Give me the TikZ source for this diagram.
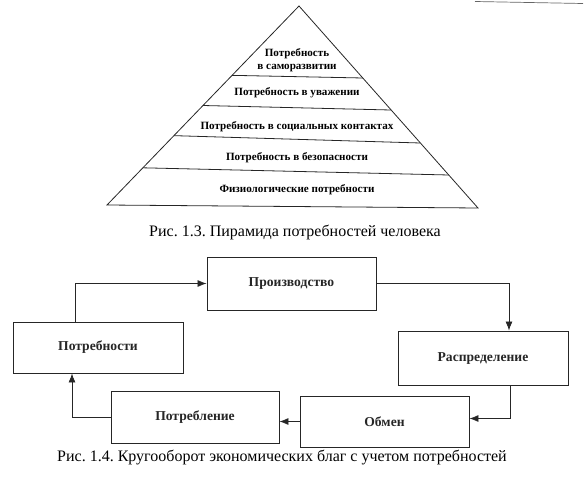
\documentclass[tikz,border=0pt]{standalone}
\usepackage{fontspec}
\setmainfont{Liberation Serif}
\usetikzlibrary{arrows.meta,calc}
\frenchspacing
\begin{document}
\begin{tikzpicture}[x=1pt,y=-1pt,
  line/.style={line width=0.8pt,black!85},
  box/.style={draw,line width=0.9pt,black!85,minimum width=169pt,minimum height=52pt,inner sep=0pt,font=\bfseries\fontsize{13.6}{15}\selectfont},
  lvl/.style={inner sep=0pt,align=center,font=\bfseries\fontsize{11.1}{13}\selectfont},
  figcap/.style={inner sep=0pt,font=\fontsize{16}{18}\selectfont},
  arr/.style={line width=0.8pt,black!85,-{Latex[length=9pt,width=7pt]}}]
\useasboundingbox (0,0) rectangle (587,482);
% scan edge mark
\draw[line width=0.7pt,black!60] (475,1.5) -- (583,3.5);
% pyramid
\coordinate (A) at (299,6);
\coordinate (BL) at (107,205);
\coordinate (BR) at (478,208);
\draw[line] (BL) -- (A) -- (BR) -- cycle;
\draw[line] ($(A)!0.3485!(BL)$) -- ($(A)!0.3564!(BR)$);
\draw[line] ($(A)!0.5!(BL)$) -- ($(A)!0.5149!(BR)$);
\draw[line] ($(A)!0.6515!(BL)$) -- ($(A)!0.6782!(BR)$);
\draw[line] ($(A)!0.8131!(BL)$) -- ($(A)!0.8366!(BR)$);
\node[lvl] (l5) at (297,60) {Потребность\\в саморазвитии};
\node[lvl] (l4) at (297,93) {Потребность в уважении};
\node[lvl] (l3) at (297,127) {Потребность в социальных контактах};
\node[lvl] (l2) at (297,158) {Потребность в безопасности};
\node[lvl] (l1) at (297,190) {Физиологические потребности};
\node[figcap] (c1) at (295,232) {Рис. 1.3. Пирамида потребностей человека};
% cycle
\node[box,minimum width=170pt,minimum height=51pt] (potr) at (98,347.5) {Потребности};
\node[box,minimum width=169pt,minimum height=53pt] (proizv) at (291.5,283.5) {Производство};
\node[box,minimum width=170pt,minimum height=54pt] (raspr) at (483,358) {Распределение};
\node[box,minimum width=168pt,minimum height=52pt] (potrebl) at (195,417) {Потребление};
\node[box,minimum width=169pt,minimum height=51pt] (obmen) at (384.5,421.5) {Обмен};
\draw[arr] ([xshift=-23pt]potr.north) |- (proizv.west);
\draw[arr] (proizv.east) -| ([xshift=26pt]raspr.north);
\draw[arr] ([xshift=27pt]raspr.south) |- ([yshift=3pt]obmen.east);
\draw[arr] (obmen.west) -- (obmen.west -| potrebl.east);
\draw[arr] (potrebl.west) -| ([xshift=-26pt]potr.south);
\node[figcap] (c2) at (282,457) {Рис. 1.4. Кругооборот экономических благ с учетом потребностей};
\end{tikzpicture}
\end{document}
